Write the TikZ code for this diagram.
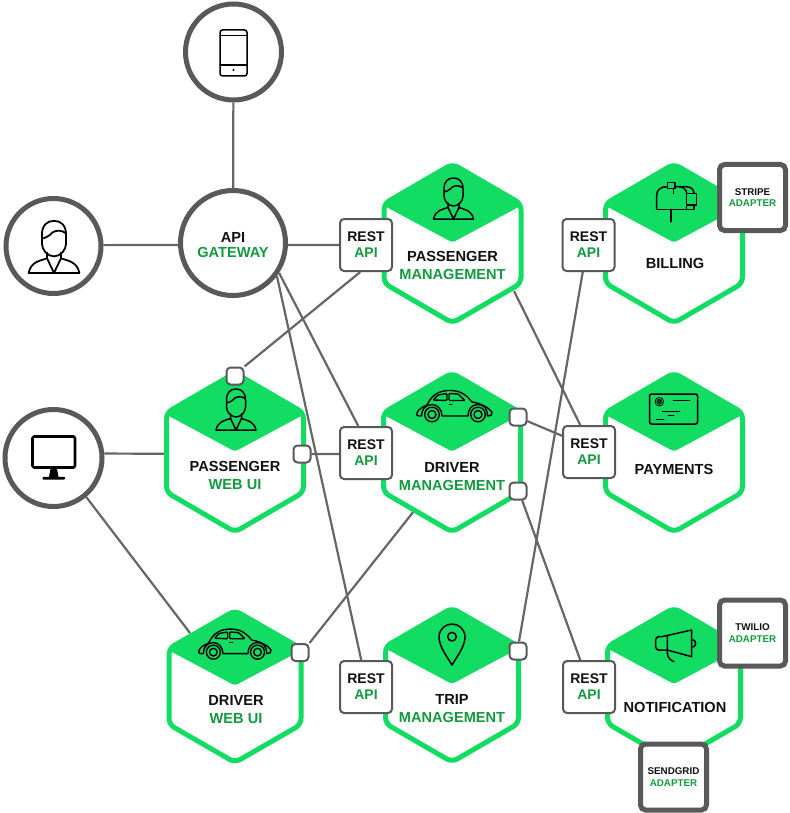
\documentclass[tikz,border=0pt]{standalone}
\usepackage{fontspec}
\setmainfont{Liberation Sans}
\usetikzlibrary{backgrounds}
\definecolor{hexgreen}{HTML}{12DC62}
\definecolor{txtgreen}{HTML}{129A3E}
\definecolor{ringgrey}{HTML}{595959}
\definecolor{wiregrey}{HTML}{666666}
\definecolor{inkblack}{HTML}{111111}
\newcommand{\gtxt}[1]{\textcolor{txtgreen}{#1}}
\tikzset{
  restbox/.style={draw=ringgrey,fill=white,line width=2pt,rounded corners=4pt,minimum size=52pt,inner sep=0pt,align=center,text=inkblack,font=\fontsize{14}{16}\selectfont\bfseries},
  portbox/.style={draw=ringgrey,fill=white,line width=2pt,rounded corners=4pt,minimum size=17pt,inner sep=0pt},
  adapterbox/.style={draw=ringgrey,fill=white,line width=5pt,rounded corners=5pt,minimum size=66pt,inner sep=0pt,align=center,text=inkblack,font=\fontsize{9.8}{11.5}\selectfont\bfseries},
  ring/.style={circle,draw=ringgrey,fill=white,line width=5pt,inner sep=0pt,align=center,text=inkblack,font=\fontsize{14.6}{15}\selectfont\bfseries},
  hexframe/.style={draw=hexgreen,fill=white,line width=5pt,rounded corners=6pt},
  hexcap/.style={fill=hexgreen,rounded corners=3pt},
  hexbox/.style={inner sep=0pt,draw=none},
  hexlabel/.style={inner sep=0pt,align=center,text=inkblack,font=\fontsize{14.6}{18}\selectfont\bfseries},
  wire/.style={draw=wiregrey,line width=2.2pt},
  icon/.style={draw=black,line width=1.5pt,line join=round,line cap=round},
}
% hexagon: name, cx, cy, w, h
\newcommand{\hexa}[5]{%
  \pgfmathsetmacro{\ha}{(#4-5)/2}%
  \pgfmathsetmacro{\hb}{(#5-5)/2+1.5}%
  \pgfmathsetmacro{\hs}{\hb/2}%
  \path[hexframe] (#2,#3-\hb) -- (#2+\ha,#3-\hs) -- (#2+\ha,#3+\hs) -- (#2,#3+\hb) -- (#2-\ha,#3+\hs) -- (#2-\ha,#3-\hs) -- cycle;
  \path[hexcap] (#2,#3-\hb) -- (#2+\ha,#3-\hs) -- (#2+\ha,#3-\hs+2) -- (#2,#3-1) -- (#2-\ha,#3-\hs+2) -- (#2-\ha,#3-\hs) -- cycle;
  \node[hexbox,minimum width=#4pt,minimum height=#5pt] (#1) at (#2,#3) {};
}
\newcommand{\personicon}[4]{%
  \begin{scope}[shift={(#1,#2)},scale=#3,icon,line width=#4pt]
    \draw (-9.5,-10) .. controls (-9.5,-17.5) and (-5.5,-21) .. (0,-21) .. controls (5.5,-21) and (9.5,-17.5) .. (9.5,-10) -- (9.5,-3) .. controls (9.5,2) and (5,7) .. (0,7) .. controls (-5,7) and (-9.5,2) .. (-9.5,-3) -- cycle;
    \draw (-9.5,-7) .. controls (-5,-8) and (-3,-10) .. (-1,-12) .. controls (2,-14) and (7,-13.5) .. (9.5,-11);
    \draw (-5.5,4) -- (-5.5,8.5) .. controls (-11,10.5) and (-18,11) .. (-20,20) -- (20,20) .. controls (18,11) and (11,10.5) .. (5.5,8.5) -- (5.5,4);
    \draw (-5.5,8.5) -- (0,20) -- (5.5,8.5);
  \end{scope}}
\newcommand{\caricon}[3]{%
  \begin{scope}[shift={(#1,#2)},scale=#3,icon,line width=1.4pt]
    \draw (-37,7) .. controls (-36,3) and (-31,1) .. (-27,-1) .. controls (-24,-7) and (-19,-15) .. (-6,-15.5) .. controls (4,-16) and (11,-13) .. (18,-4) .. controls (26,-3) and (34,1) .. (38,6) .. controls (38.5,9) and (37,10) .. (34,10) -- (33.5,10) .. controls (33.5,2) and (29,-1.5) .. (24,-1.5) .. controls (18,-1.5) and (14,3) .. (14,10) -- (-12,10) .. controls (-12,3) and (-17,-1.5) .. (-22,-1.5) .. controls (-28,-1.5) and (-32.5,3) .. (-32.5,10) -- (-35,10) .. controls (-37,10) and (-38,9) .. (-37,7) -- cycle;
    \draw[rounded corners=1pt] (-21,-6) -- (-16,-11) -- (-7,-12.5) -- (-7,-5.5) -- cycle;
    \draw[rounded corners=1pt] (-5,-12.5) -- (4,-12) -- (11,-5.5) -- (-5,-5.5) -- cycle;
    \draw[line width=1pt] (-5,-2) -- (-2,-2);
    \draw (-22,8.5) circle[radius=7.3];
    \draw (-22,8.5) circle[radius=4];
    \draw (24,8.5) circle[radius=7.3];
    \draw (24,8.5) circle[radius=4];
  \end{scope}}
\begin{document}
\begin{tikzpicture}[x=1pt,y=-1pt]
\useasboundingbox (0,0) rectangle (789,813);

% clients
\node[ring,minimum size=96pt] (phone) at (233.5,52) {};
\node[ring,minimum size=95pt] (user) at (53.5,246) {};
\node[ring,minimum size=105pt] (gw) at (233,243) {\rule{0pt}{13.5pt}API\\\gtxt{GATEWAY}};
\node[ring,minimum size=97pt] (desk) at (53.5,458) {};

% hexagons
\hexa{pm}{452.5}{243.5}{142}{161}
\hexa{bill}{674}{243.5}{142}{161}
\hexa{pw}{235}{452.5}{142}{161}
\hexa{dm}{452}{452.5}{142}{161}
\hexa{pay}{674}{452.5}{142}{161}
\hexa{dw}{235}{686.5}{137}{154}
\hexa{trip}{452}{685}{138}{156}
\hexa{notif}{674}{685}{138}{156}

% hexagon labels
\node[hexlabel] (pm-label) at (452.5,265) {PASSENGER\\\gtxt{MANAGEMENT}};
\node[hexlabel] (bill-label) at (675,263) {BILLING};
\node[hexlabel] (pw-label) at (235,475.5) {PASSENGER\\\gtxt{WEB UI}};
\node[hexlabel] (dm-label) at (452,477) {DRIVER\\\gtxt{MANAGEMENT}};
\node[hexlabel] (pay-label) at (674,469) {PAYMENTS};
\node[hexlabel] (dw-label) at (236,710) {DRIVER\\\gtxt{WEB UI}};
\node[hexlabel] (trip-label) at (452,709) {TRIP\\\gtxt{MANAGEMENT}};
\node[hexlabel] (notif-label) at (675,707) {NOTIFICATION};

% REST boxes
\node[restbox] (r1) at (366,245) {REST\\\gtxt{API}};
\node[restbox] (rb) at (588.5,245) {REST\\\gtxt{API}};
\node[restbox] (rd) at (366,453) {REST\\\gtxt{API}};
\node[restbox] (rp) at (589,452) {REST\\\gtxt{API}};
\node[restbox] (rt) at (366,687) {REST\\\gtxt{API}};
\node[restbox] (rn) at (589,687) {REST\\\gtxt{API}};

% ports
\node[portbox] (pt) at (235,376) {};
\node[portbox] (pr) at (302,454) {};
\node[portbox] (d1) at (518,417) {};
\node[portbox] (d2) at (518,491) {};
\node[portbox] (tp) at (518,651) {};
\node[portbox] (dp) at (300,652.5) {};

% adapters
\node[adapterbox] (stripe) at (752.5,197.5) {STRIPE\\\gtxt{ADAPTER}};
\node[adapterbox] (twilio) at (752.5,633) {TWILIO\\\gtxt{ADAPTER}};
\node[adapterbox] (sendgrid) at (673.5,777) {SENDGRID\\\gtxt{ADAPTER}};

% free ends on hexagon edges
\coordinate (pm-se) at (514,291);
\coordinate (dw-nw) at (190,633);
\coordinate (dm-sw) at (414,511);

% connectors
\begin{pgfonlayer}{background}
\draw[wire] (phone) -- (gw);
\draw[wire] (user.1) -- (gw.182);
\draw[wire] (gw.-2) -- (r1.west);
\draw[wire] (r1.-102) -- (pt.45);
\draw[wire] (gw.-33) -- (rd.106);
\draw[wire] (gw.-37) -- (rt.100);
\draw[wire] (pr.east) -- (rd.182);
\draw[wire] (desk.5) -- (pw.181);
\draw[wire] (desk.-50) -- (dw-nw);
\draw[wire] (pm-se) -- (rp.108);
\draw[wire] (d1.-24) -- (rp.149);
\draw[wire] (d2.-66) -- (rn.108);
\draw[wire] (tp.84) -- (rb.-102);
\draw[wire] (dp.45) -- (dm-sw);
\end{pgfonlayer}

% phone icon
\begin{scope}[icon]
  \draw[rounded corners=2.5pt] (220,30) rectangle (247,76);
  \draw (220,35.5) -- (247,35.5);
  \draw (220,65) -- (247,65);
\end{scope}
\fill[black] (233.5,70) circle[radius=1.1];

% monitor icon
\draw[icon,line width=2.6pt,rounded corners=1.5pt] (32.5,436.5) rectangle (75,467.5);
\fill[black] (50.5,469) -- (57,469) -- (58.5,477) -- (49,477) -- cycle;
\fill[black,rounded corners=0.8pt] (42.7,476.8) rectangle (65,479.5);

% people
\personicon{54}{247.5}{1.27}{1.8}
\personicon{453.5}{199}{1}{1.5}
\personicon{236}{410}{1}{1.5}

% cars
\caricon{454}{406}{1}
\caricon{234.5}{644}{0.96}

% mailbox
\begin{scope}[shift={(676,201.7)},icon]
  \draw (-19.3,7.7) -- (-19.3,-6.7) .. controls (-19.3,-12) and (-15,-15) .. (-9,-15) -- (10,-15) .. controls (15,-15) and (18,-12) .. (18,-8.3);
  \draw (10.7,-8.3) .. controls (10.7,-12) and (7,-15) .. (3,-15);
  \draw (10.7,-8.3) -- (20.7,-8.3) -- (20.7,3.3) -- (10.7,3.3) -- cycle;
  \draw (18,3.3) -- (18,7.7) -- (-19.3,7.7);
  \draw (10.7,3.3) -- (10.7,7.7);
  \draw (-5,7.7) -- (-5,20);
  \draw[fill=hexgreen] (-8.3,-19.3) rectangle (-1,-13);
  \draw (-2.7,-13) -- (-2.7,-8.3);
\end{scope}

% bank card
\begin{scope}[icon]
  \draw[rounded corners=2pt] (649.5,394) rectangle (697.5,424);
  \draw[line width=0.8pt] (659.3,401.7) circle[radius=4.3];
  \fill[black!75!hexgreen] (659.3,401.7) circle[radius=3];
  \draw[line width=0.5pt] (673,399.8) -- (690,399.8);
  \draw[line width=0.5pt] (662,411.5) -- (680,411.5);
  \draw[line width=0.5pt] (668,415.5) -- (674,415.5);
  \draw[line width=0.5pt] (656,419.5) -- (664,419.5);
\end{scope}

% location pin
\draw[icon] (452,665) .. controls (446,655) and (439,646) .. (439,637) .. controls (439,629.5) and (445,624) .. (452,624) .. controls (459,624) and (465,629.5) .. (465,637) .. controls (465,646) and (458,655) .. (452,665) -- cycle;
\draw[icon] (452,636.7) circle[radius=4.3];

% megaphone
\begin{scope}[shift={(676,645.7)},icon]
  \draw (-14.3,-9) -- (15.7,-15.7) -- (15.7,11) -- (-8.7,4.3);
  \draw[rounded corners=3pt] (-14.3,-9) -- (-20.3,-9) -- (-20.3,4.3) -- (-8.7,4.3);
  \draw (-8.7,-10.2) -- (-8.7,7) .. controls (-8.7,12) and (-5,15) .. (-2,16);
  \draw (15.7,-6.3) .. controls (21,-6) and (21,1.3) .. (15.7,1.7);
\end{scope}
\end{tikzpicture}
\end{document}
